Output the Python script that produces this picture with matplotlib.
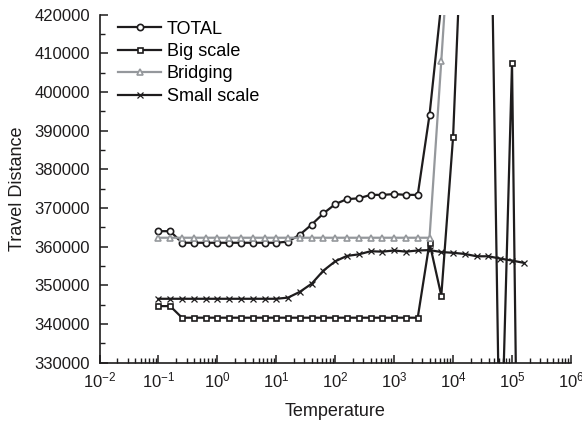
import numpy as np
import matplotlib
matplotlib.use("Agg")
import matplotlib.pyplot as plt
from matplotlib import ticker

plt.rcParams['font.family'] = ['Liberation Sans', 'DejaVu Sans']

# temperatures (5 steps per decade, 0.1 .. 1.6e5)
temps = [0.1, 0.158, 0.251, 0.398, 0.631,
         1.0, 1.58, 2.51, 3.98, 6.31,
         10.0, 15.8, 25.1, 39.8, 63.1,
         100.0, 158.0, 251.0, 398.0, 631.0,
         1000.0, 1585.0, 2512.0, 3981.0, 6310.0,
         10000.0, 15849.0, 25119.0, 39811.0, 63096.0,
         100000.0, 158489.0]

total = [364000, 364000, 361000, 361000, 361000, 361000, 361000, 361000,
         361000, 361000, 361000, 361300, 363100, 365700, 368600, 371000,
         372300, 372500, 373400, 373400, 373600, 373400, 373400, 394100,
         423000, 470000]

big_scale = [344600, 344600, 341600, 341600, 341600, 341600, 341600, 341600,
             341600, 341600, 341600, 341600, 341600, 341600, 341600, 341600,
             341600, 341600, 341600, 341600, 341600, 341600, 341600, 361000,
             347300, 388400, 463000, 480000, 492000, 296000, 407500, 165000]

bridging = [362300, 362300, 362300, 362300, 362300, 362300, 362300, 362300,
            362300, 362300, 362300, 362300, 362300, 362300, 362300, 362300,
            362300, 362300, 362300, 362300, 362300, 362300, 362300, 362300,
            408100, 455000]

small_scale = [346500, 346500, 346500, 346500, 346500, 346500, 346500, 346500,
               346500, 346500, 346500, 346800, 348300, 350400, 353800, 356200,
               357600, 358000, 358800, 358700, 359000, 358700, 359000, 359100,
               358600, 358400, 358100, 357500, 357500, 356900, 356400, 355800]

black = '#1e1c1d'
grey = '#95989c'

fig = plt.figure(figsize=(5.82, 4.24), dpi=100)
ax = fig.add_axes([0.171, 0.145, 0.810, 0.820])

ax.plot(temps[:len(total)], total, color=black, lw=1.6, marker='o', ms=4.5,
        mfc='white', mec=black, mew=1.2, label='TOTAL')
ax.plot(temps[:len(big_scale)], big_scale, color=black, lw=1.6, marker='s', ms=3.6,
        mfc='white', mec=black, mew=1.2, label='Big scale')
ax.plot(temps[:len(bridging)], bridging, color=grey, lw=1.6, marker='^', ms=5,
        mfc='white', mec=grey, mew=1.2, label='Bridging')
ax.plot(temps[:len(small_scale)], small_scale, color=black, lw=1.6, marker='x', ms=4,
        mec=black, mew=0.9, label='Small scale')

ax.set_xscale('log')
ax.set_xlim(1e-2, 1e6)
ax.set_ylim(330000, 420000)
ax.xaxis.set_major_locator(ticker.LogLocator(base=10, numticks=20))
ax.xaxis.set_minor_locator(ticker.LogLocator(base=10, subs=np.arange(2, 10), numticks=20))
ax.xaxis.set_minor_formatter(ticker.NullFormatter())
ax.yaxis.set_major_locator(ticker.MultipleLocator(10000))
ax.yaxis.set_minor_locator(ticker.MultipleLocator(5000))
ax.yaxis.set_major_formatter(ticker.FormatStrFormatter('%d'))

for side in ['top', 'right']:
    ax.spines[side].set_visible(False)
for side in ['left', 'bottom']:
    ax.spines[side].set_linewidth(1.2)
    ax.spines[side].set_color(black)

ax.tick_params(which='major', direction='in', length=6, width=1.1, labelsize=12,
               colors=black)
ax.tick_params(axis='y', which='major', pad=7)
ax.tick_params(axis='x', which='major', pad=6)
ax.tick_params(which='minor', direction='in', length=3.5, width=1.0, colors=black)

ax.set_xlabel('Temperature', fontsize=13, color=black, labelpad=9)
ax.set_ylabel('Travel Distance', fontsize=13, color=black, labelpad=6)

ax.legend(loc='upper left', bbox_to_anchor=(0.005, 1.03), frameon=False, fontsize=13,
          handlelength=2.4, handletextpad=0.3, labelspacing=0.3, borderaxespad=0.5)

fig.savefig('out.png', dpi=100)
